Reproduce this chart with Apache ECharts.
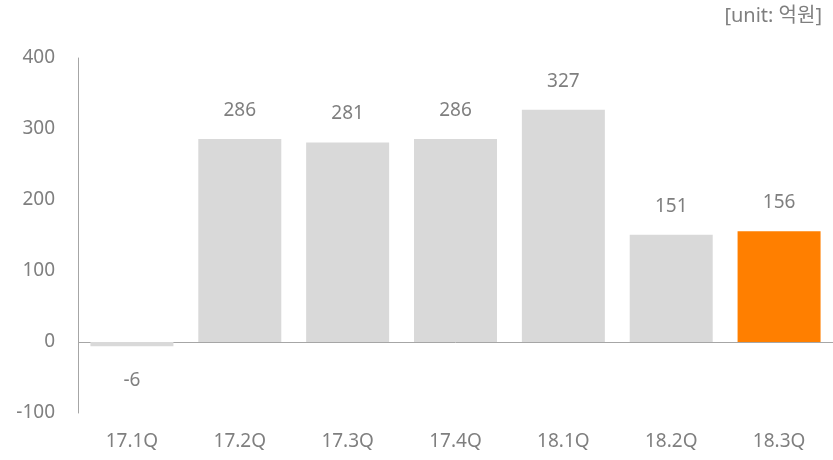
<!DOCTYPE html>
<html>
<head>
<meta charset="utf-8">
<script src="https://cdn.jsdelivr.net/npm/echarts@6/dist/echarts.min.js"></script>
<style>
  html, body { margin: 0; padding: 0; background: #fff; }
  #chart { width: 833px; height: 460px; }
</style>
</head>
<body>
<div id="chart"></div>
<script>
var categories = ['17.1Q', '17.2Q', '17.3Q', '17.4Q', '18.1Q', '18.2Q', '18.3Q'];
var values = [-6, 286, 281, 286, 327, 151, 156];
var unitLabel = '[unit: 억원]';

var font = '"Noto Sans", "Noto Sans CJK KR", sans-serif';
var grey = '#7f7f7f';

var barData = values.map(function (v, i) {
    var item = {
        value: v,
        itemStyle: { color: i === values.length - 1 ? '#ff7f00' : '#d9d9d9' }
    };
    if (v < 0) {
        item.label = { position: 'bottom', distance: 25 };
    }
    return item;
});

var chart = echarts.init(document.getElementById('chart'));
chart.setOption({
    animation: false,
    grid: { left: 78, top: 58, bottom: 47, width: 756 },
    graphic: [{
        type: 'text',
        right: 11,
        top: 6,
        style: { text: unitLabel, font: '20px ' + font, fill: grey }
    }],
    xAxis: {
        type: 'category',
        data: categories,
        axisLine: { show: false },
        axisTick: { show: false },
        axisLabel: { color: grey, fontSize: 19, fontFamily: font, margin: 19 }
    },
    yAxis: {
        type: 'value',
        min: -100,
        max: 400,
        interval: 100,
        axisLine: { show: true, lineStyle: { color: '#a6a6a6', width: 1 } },
        axisTick: { show: false },
        axisLabel: { color: grey, fontSize: 19, fontFamily: font, margin: 23 },
        splitLine: {
            show: true,
            lineStyle: {
                color: ['transparent', '#a6a6a6', 'transparent', 'transparent', 'transparent', 'transparent'],
                width: 1
            }
        }
    },
    series: [{
        type: 'bar',
        data: barData,
        barWidth: 83,
        label: {
            show: true,
            position: 'top',
            distance: 19,
            color: grey,
            fontSize: 19,
            fontFamily: font
        }
    }]
});
</script>
</body>
</html>
